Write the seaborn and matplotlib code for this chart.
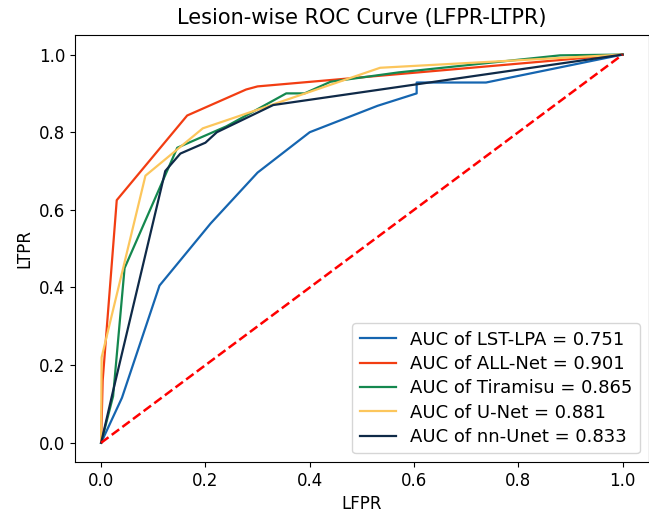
import numpy as np
import pandas as pd
import matplotlib
matplotlib.use("Agg")
import matplotlib.pyplot as plt
import seaborn as sns

# ROC points
lst_fpr = [0.0, 0.04, 0.112, 0.21, 0.30, 0.40, 0.53, 0.605, 0.605, 0.738, 1.0]
lst_tpr = [0.0, 0.116, 0.405, 0.565, 0.696, 0.80, 0.868, 0.90, 0.928, 0.928, 1.0]

all_fpr = [0.0, 0.003, 0.030, 0.165, 0.278, 0.30, 1.0]
all_tpr = [0.0, 0.16, 0.625, 0.843, 0.91, 0.918, 1.0]

tir_fpr = [0.0, 0.023, 0.045, 0.146, 0.24, 0.355, 0.39, 0.44, 0.57, 0.88, 1.0]
tir_tpr = [0.0, 0.12, 0.45, 0.76, 0.815, 0.90, 0.90, 0.93, 0.954, 0.998, 1.0]

unet_fpr = [0.0, 0.001, 0.085, 0.195, 0.25, 0.535, 1.0]
unet_tpr = [0.0, 0.22, 0.688, 0.81, 0.835, 0.966, 1.0]

nnu_fpr = [0.0, 0.022, 0.123, 0.152, 0.20, 0.222, 0.33, 1.0]
nnu_tpr = [0.0, 0.128, 0.70, 0.745, 0.773, 0.80, 0.87, 1.0]

models = ["LST-LPA", "ALL-Net", "Tiramisu", "U-Net", "nn-Unet"]
aucs = [0.751, 0.901, 0.865, 0.881, 0.833]
colors = ["#1565b0", "#f23d12", "#14884f", "#fcc65c", "#0f2a48"]

curves = [(lst_fpr, lst_tpr), (all_fpr, all_tpr), (tir_fpr, tir_tpr),
          (unet_fpr, unet_tpr), (nnu_fpr, nnu_tpr)]

rows = []
for name, auc, (f, t) in zip(models, aucs, curves):
    label = f"AUC of {name} = {auc:.3f}"
    for fi, ti in zip(f, t):
        rows.append((label, fi, ti))
df = pd.DataFrame(rows, columns=["model", "LFPR", "LTPR"])

plt.rcParams["font.size"] = 12
fig = plt.figure(figsize=(6.49, 5.17), dpi=100)
ax = fig.add_axes([0.1156, 0.106, 0.884, 0.826])

labels = list(dict.fromkeys(df["model"]))
sns.lineplot(data=df, x="LFPR", y="LTPR", hue="model", hue_order=labels,
             palette=colors, sort=False, estimator=None, linewidth=1.6, ax=ax)

ax.plot([0, 1], [0, 1], color="red", linestyle="--", linewidth=1.8, label="_nolegend_")

ax.set_title("Lesion-wise ROC Curve (LFPR-LTPR)", fontsize=15, pad=8)
ax.set_xlabel("LFPR")
ax.set_ylabel("LTPR")
ax.legend(loc="lower right", fontsize=13, title=None, labelspacing=0.35)

fig.savefig("out.png", dpi=100)
